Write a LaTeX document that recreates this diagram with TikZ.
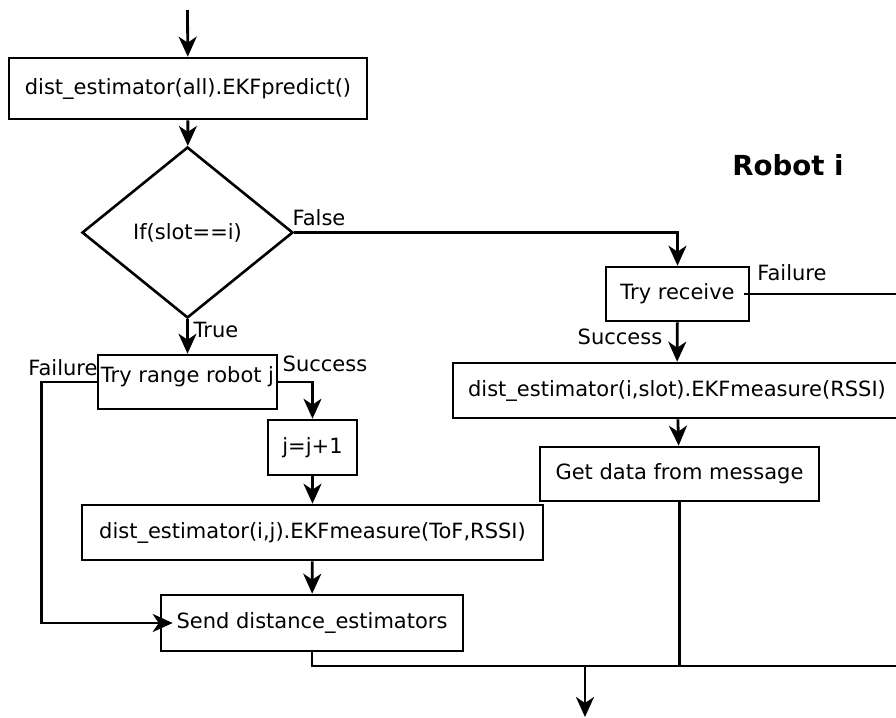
\documentclass[tikz,border=0pt]{standalone}
\usepackage{fontspec}
\setmainfont{DejaVu Sans}
\usetikzlibrary{
    shapes.geometric,
    arrows.meta,
    positioning,
    calc
}

\begin{document}
\begin{tikzpicture}[
    x=0.5pt, y=-0.5pt,
    >={Stealth[length=10pt, width=9pt, inset=3pt]},
    every node/.style={font=\fontsize{10.5}{12}\selectfont},
    box/.style={draw=black, line width=1.3pt, fill=white, inner sep=0pt, minimum height=27.5pt},
    decision/.style={box, diamond, minimum width=105.5pt, minimum height=85.5pt},
    flow/.style={draw=black, line width=1.4pt, ->},
    wire/.style={draw=black, line width=1.3pt},
    lbl/.style={inner sep=0pt}
]
\clip (0,0) rectangle (896,718);

% ==================== COMMON PART: PREDICTION AND SLOT TEST ====================
\coordinate (start) at (187.5,10);

\node[box, minimum width=179pt, minimum height=30.5pt] (predict) at (188,88.5) {dist\_estimator(all).EKFpredict()};

\node[decision] (ifslot) at (187.5,232.5) {If(slot==i)};

\node[font=\bfseries\fontsize{13.8}{16}\selectfont] (robot) at (788,165) {Robot i};

\draw[flow] (start) -- (predict);
\draw[flow] (predict) -- (ifslot);

% ==================== OWN SLOT: RANGING ====================
\node[box, minimum width=89.5pt, minimum height=27pt, text height=8pt, text depth=8pt] (tryrange) at (187.5,382) {Try range robot j};

\node[box, minimum width=44.5pt] (jinc) at (312.5,447.5) {j=j+1};

\node[box, minimum width=230.5pt] (meastof) at (312.5,532.5) {dist\_estimator(i,j).EKFmeasure(ToF,RSSI)};

\node[box, minimum width=151pt, minimum height=28pt] (send) at (312,623) {Send distance\_estimators};

\draw[flow] (ifslot) -- (tryrange);
\draw[flow] (tryrange.east) -| (jinc.north);
\draw[flow] (tryrange.west) -- ++(-55,0) |- ([xshift=6.5pt]send.west);
\draw[flow] (jinc) -- (meastof);
\draw[flow] (meastof) -- (send);

\node[lbl] (ltrue) at (216,330) {True};
\node[lbl] (lsuccl) at (325,364) {Success};
\node[lbl] (lfaill) at (63,368) {Failure};

% ==================== OTHER SLOT: RECEIVING ====================
\node[box, minimum width=71.5pt, minimum height=27pt] (tryrecv) at (677.5,294) {Try receive};

\node[box, minimum width=224pt] (measrssi) at (677,390.5) {dist\_estimator(i,slot).EKFmeasure(RSSI)};

\node[box, minimum width=139.5pt, minimum height=27pt] (getdata) at (679.5,474) {Get data from message};

\draw[flow] (ifslot.east) -| (tryrecv.north);
\draw[flow] (tryrecv) -- (measrssi);
\draw[flow] (measrssi) -- (getdata);
\draw[wire] ([xshift=-3pt]tryrecv.east) -- ++(180,0);

\node[lbl] (lfalse) at (319,218) {False};
\node[lbl] (lsuccr) at (620,337) {Success};
\node[lbl] (lfailr) at (792,273) {Failure};

% ==================== MERGE ====================
\coordinate (merge) at (585,666);
\coordinate (mergeright) at (910,666);
\coordinate (finish) at (585,717);

\draw[wire] (send.south) |- (mergeright);
\draw[wire] (getdata.south) -- (getdata.south |- merge);
\draw[flow] (merge) -- (finish);

\end{tikzpicture}
\end{document}
